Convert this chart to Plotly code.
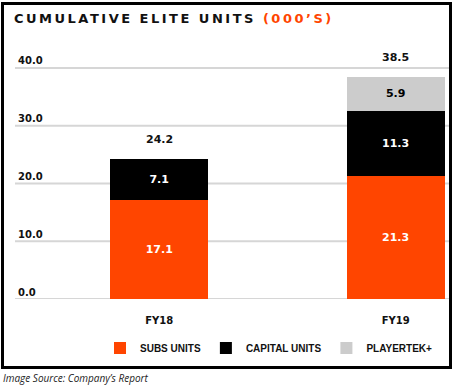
import plotly.graph_objects as go

categories = ["FY18", "FY19"]
subs_units = [17.1, 21.3]
capital_units = [7.1, 11.3]
playertek_units = [None, 5.9]
totals = [24.2, 38.5]
y_ticks = [0, 10, 20, 30, 40]
y_tick_labels = ["0.0", "10.0", "20.0", "30.0", "40.0"]

ORANGE = "#FF4500"
BLACK = "#000000"
GRAY = "#CCCCCC"
GRID = "#D6D6D6"
FONT = "DejaVu Sans"
LFONT = "Liberation Sans"

fig = go.Figure()
fig.add_trace(go.Bar(
    name="SUBS UNITS", x=categories, y=subs_units, marker=dict(color=ORANGE, line=dict(width=0)),
    text=[f"{v:.1f}" for v in subs_units], textposition="inside", insidetextanchor="middle",
    textangle=0, constraintext="none",
    textfont=dict(family=FONT, size=11, color="white", weight="bold"),
))
fig.add_trace(go.Bar(
    name="CAPITAL UNITS", x=categories, y=capital_units, marker=dict(color=BLACK, line=dict(width=0)),
    text=[f"{v:.1f}" for v in capital_units], textposition="inside", insidetextanchor="middle",
    textangle=0, constraintext="none",
    textfont=dict(family=FONT, size=11, color="white", weight="bold"),
))
fig.add_trace(go.Bar(
    name="PLAYERTEK+", x=categories, y=playertek_units, marker=dict(color=GRAY, line=dict(width=0)),
    text=["" if v is None else f"{v:.1f}" for v in playertek_units], textposition="inside",
    insidetextanchor="middle", textangle=0, constraintext="none",
    textfont=dict(family=FONT, size=11, color="black", weight="bold"),
))

for c, t in zip(categories, totals):
    fig.add_annotation(x=c, y=t, text=f"<b>{t:.1f}</b>", showarrow=False, yanchor="bottom",
                       yshift=11, font=dict(family=FONT, size=11, color="#111111"))

# horizontal gridlines at the y tick values (drawn through the y scale)
for v in y_ticks:
    fig.add_shape(type="line", xref="paper", yref="y", x0=0, x1=1, y0=v, y1=v,
                  line=dict(color=GRID, width=2), layer="below")

# footer
fig.add_annotation(xref="paper", yref="paper", x=(1 - 15) / 435, y=(299 - 378) / 260,
                   xanchor="left", yanchor="middle", showarrow=False,
                   text="<i>Image Source: Company\u2019s Report</i>",
                   font=dict(family="Open Sans", size=10, color="#222222"))

# frame
fig.add_shape(type="rect", xref="paper", yref="paper",
              x0=(2.5 - 15) / 435, x1=(450.5 - 15) / 435,
              y0=(299 - 367.5) / 260, y1=(299 - 3.5) / 260,
              line=dict(color="black", width=3), fillcolor="rgba(0,0,0,0)", layer="above")

fig.update_layout(
    width=455, height=390,
    margin=dict(l=15, r=5, t=39, b=91, autoexpand=False),
    paper_bgcolor="white", plot_bgcolor="white",
    barmode="stack", bargap=0.585,
    title=dict(
        text='<b><span style="letter-spacing:2.5px">CUMULATIVE ELITE UNITS </span>'
             '<span style="letter-spacing:2.5px;fill:#FF4500">(000\u2019S)</span></b>',
        x=14 / 455, xref="container", xanchor="left",
        y=1 - 18 / 390, yref="container", yanchor="middle",
        font=dict(family=FONT, size=13, color="#111111"),
    ),
    xaxis=dict(range=[-0.61, 1.23], showgrid=False, showline=False, zeroline=False,
               ticks="", ticklabelstandoff=14,
               tickfont=dict(family=FONT, size=10, color="#111111", weight="bold")),
    yaxis=dict(range=[0, 45], tickvals=y_ticks, ticktext=y_tick_labels,
               ticklabelposition="inside top", showgrid=False,
               zeroline=False, showline=False, ticks="",
               tickfont=dict(family=FONT, size=10, color="#111111", weight="bold")),
    legend=dict(orientation="h", xref="container", yref="container",
                x=100 / 455, xanchor="left", y=1 - 348 / 390,
                yanchor="middle", traceorder="normal",
                font=dict(family=LFONT, size=10, color="#111111", weight="bold")),
    showlegend=True,
)

fig.write_html("out.html", config={"displayModeBar": False},
               post_script="document.body.style.margin='0';")
